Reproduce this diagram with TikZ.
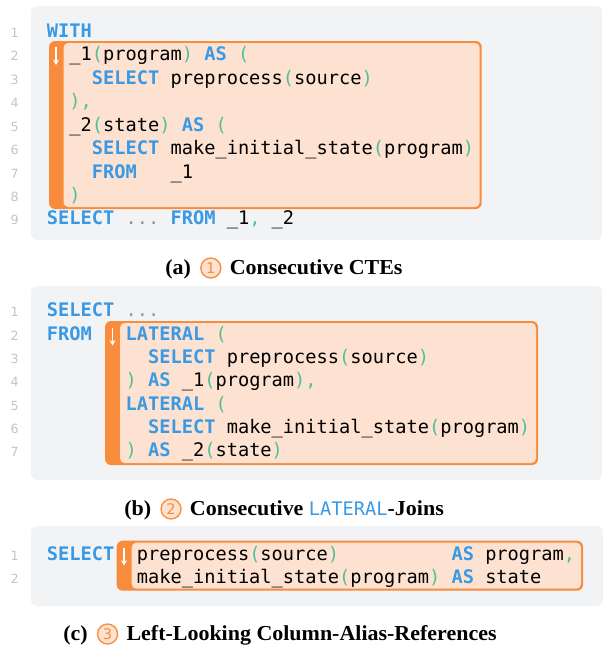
\documentclass[tikz,border=0pt]{standalone}
\usepackage{fontspec}
\setmainfont{Liberation Serif}
\setmonofont{DejaVu Sans Mono}
\newfontfamily\numfont{DejaVu Sans}
\newfontfamily\capfont[FakeStretch=1.03]{Liberation Serif}
\usetikzlibrary{arrows.meta,calc}
\definecolor{kwblue}{RGB}{58,153,228}
\definecolor{pargreen}{RGB}{80,192,150}
\definecolor{panelgrey}{RGB}{242,243,245}
\definecolor{obar}{RGB}{249,140,60}
\definecolor{peach}{RGB}{253,226,209}
\definecolor{lnumgrey}{RGB}{196,196,196}
\definecolor{dotgrey}{RGB}{150,150,150}
\newcommand\kw[1]{\textcolor{kwblue}{\bfseries #1}}
\newcommand\pa[1]{\textcolor{pargreen}{#1}}
\newcommand\dt[1]{\textcolor{dotgrey}{#1}}
\tikzset{
  code/.style={anchor=base west, inner sep=0pt, font=\ttfamily\fontsize{14}{16}\selectfont},
  lnum/.style={anchor=base east, inner sep=0pt, text=lnumgrey, font=\numfont\fontsize{9.5}{11}\selectfont},
  panelbg/.style={fill=panelgrey, rounded corners=4.5pt},
  hlouter/.style={fill=obar, rounded corners=4.5pt},
  hlinner/.style={fill=peach, rounded corners=3.5pt},
  captext/.style={anchor=base west, inner sep=0pt, font=\capfont\bfseries\fontsize{16}{18}\selectfont},
  circnum/.style={circle, draw=obar, fill=peach, text=obar, line width=1pt, inner sep=0pt,
    minimum size=15pt, font=\numfont\fontsize{11}{13}\selectfont},
  downarr/.style={draw=white, line width=1.1pt, -{Stealth[length=4pt,width=4.5pt]}}
}
\begin{document}
\begin{tikzpicture}[x=0.75pt,y=-0.75pt]
\useasboundingbox (0,0) rectangle (606,646);
% ---------- panel (a)
\fill[panelbg] (31,6) rectangle (602,240);
\fill[hlouter] (49,41) rectangle (481.7,209);
\fill[hlinner] (63.5,43) rectangle (479.7,207);
\coordinate (aA) at (56,47); \coordinate (aB) at (56,65);
\draw[downarr] (aA) -- (aB);
\foreach \k/\y in {1/37.3,2/60.76,3/84.22,4/107.68,5/131.14,6/154.6,7/178.06,8/201.52,9/224.98}
  \node[lnum] (aln\k) at (19,\y) {\k};
\node[code] (a1) at (46.7,37.3)   {\kw{WITH}};
\node[code] (a2) at (46.7,60.76)  {~~\_1\pa{(}program\pa{)} \kw{AS} \pa{(}};
\node[code] (a3) at (46.7,84.22)  {~~~~\kw{SELECT} preprocess\pa{(}source\pa{)}};
\node[code] (a4) at (46.7,107.68) {~~\pa{),}};
\node[code] (a5) at (46.7,131.14) {~~\_2\pa{(}state\pa{)} \kw{AS} \pa{(}};
\node[code] (a6) at (46.7,154.6)  {~~~~\kw{SELECT} make\_initial\_state\pa{(}program\pa{)}};
\node[code] (a7) at (46.7,178.06) {~~~~\kw{FROM}~~~\_1};
\node[code] (a8) at (46.7,201.52) {~~\pa{)}};
\node[code] (a9) at (46.7,224.98) {\kw{SELECT} \dt{...} \kw{FROM} \_1\pa{,} \_2};
% caption (a)
\node[captext] (ca1) at (165,274) {(a)};
\node[circnum, anchor=west] (ca2) at ($(ca1.base east)+(9,-6)$) {1};
\node[captext] (ca3) at ($(ca2.east |- ca1.base)+(8,0)$) {Consecutive CTEs};
% ---------- panel (b)
\fill[panelbg] (31,286) rectangle (602,480);
\fill[hlouter] (105,321) rectangle (538,465);
\fill[hlinner] (120,323) rectangle (536,463);
\coordinate (bA) at (112.5,327.5); \coordinate (bB) at (112.5,345.5);
\draw[downarr] (bA) -- (bB);
\foreach \k/\y in {1/316.7,2/340.05,3/363.4,4/386.75,5/410.1,6/433.45,7/456.8}
  \node[lnum] (bln\k) at (19,\y) {\k};
\node[code] (b1) at (46.7,316.7)  {\kw{SELECT} \dt{...}};
\node[code] (b2) at (46.7,340.05) {\kw{FROM}~~~\kw{LATERAL} \pa{(}};
\node[code] (b3) at (46.7,363.4)  {~~~~~~~~~\kw{SELECT} preprocess\pa{(}source\pa{)}};
\node[code] (b4) at (46.7,386.75) {~~~~~~~\pa{)} \kw{AS} \_1\pa{(}program\pa{),}};
\node[code] (b5) at (46.7,410.1)  {~~~~~~~\kw{LATERAL} \pa{(}};
\node[code] (b6) at (46.7,433.45) {~~~~~~~~~\kw{SELECT} make\_initial\_state\pa{(}program\pa{)}};
\node[code] (b7) at (46.7,456.8)  {~~~~~~~\pa{)} \kw{AS} \_2\pa{(}state\pa{)}};
% caption (b)
\node[captext] (cb1) at (124,515) {(b)};
\node[circnum, anchor=west] (cb2) at ($(cb1.base east)+(9,-6)$) {2};
\node[captext] (cb3) at ($(cb2.east |- cb1.base)+(8,0)$) {Consecutive \textcolor{kwblue}{\mdseries\ttfamily\fontsize{14}{16}\selectfont LATERAL}-Joins};
% ---------- panel (c)
\fill[panelbg] (31,526) rectangle (603,606);
\fill[hlouter] (116.7,540.7) rectangle (583,590.7);
\fill[hlinner] (131.7,542.7) rectangle (581,588.7);
\coordinate (cA) at (124,547.5); \coordinate (cB) at (124,565.5);
\draw[downarr] (cA) -- (cB);
\node[lnum] (cln1) at (19,560) {1};
\node[lnum] (cln2) at (19,583.4) {2};
\node[code] (c1) at (46.7,560)   {\kw{SELECT}~~preprocess\pa{(}source\pa{)}~~~~~~~~~~\kw{AS} program\pa{,}};
\node[code] (c2) at (46.7,583.4) {~~~~~~~~make\_initial\_state\pa{(}program\pa{)} \kw{AS} state};
% caption (c)
\node[captext] (cc1) at (63,640) {(c)};
\node[circnum, anchor=west] (cc2) at ($(cc1.base east)+(9,-6)$) {3};
\node[captext] (cc3) at ($(cc2.east |- cc1.base)+(8,0)$) {Left-Looking Column-Alias-References};
\end{tikzpicture}
\end{document}
